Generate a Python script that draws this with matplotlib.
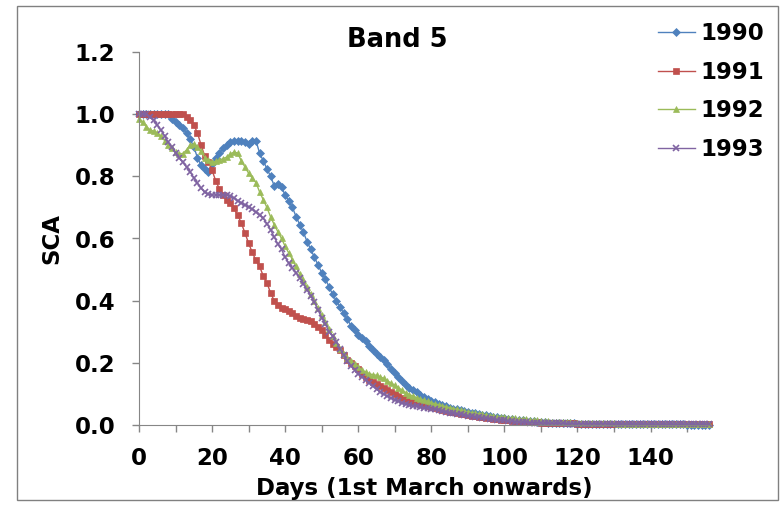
import matplotlib
matplotlib.use('Agg')
import matplotlib.pyplot as plt
from matplotlib.patches import Rectangle

# snow covered area per day, Band 5
sca_1990 = [1.0, 1.0, 1.0, 1.0, 1.0, 1.0, 1.0, 1.0, 1.0, 0.985,
            0.975, 0.965, 0.955, 0.94, 0.92, 0.895, 0.86, 0.835, 0.825, 0.815,
            0.84, 0.86, 0.875, 0.89, 0.90, 0.91, 0.915, 0.915, 0.915, 0.91,
            0.905, 0.915, 0.915, 0.875, 0.85, 0.825, 0.80, 0.77, 0.775,
            0.765, 0.74, 0.72, 0.70, 0.67, 0.645, 0.62, 0.59, 0.565, 0.54,
            0.515, 0.49, 0.47, 0.445, 0.42, 0.40, 0.38, 0.36, 0.34, 0.32,
            0.305, 0.29, 0.28, 0.27, 0.255, 0.24, 0.23, 0.22, 0.21, 0.195,
            0.18, 0.168, 0.155, 0.142, 0.13, 0.12, 0.112, 0.105, 0.097,
            0.09, 0.085, 0.078, 0.073, 0.068, 0.064, 0.06, 0.056, 0.053, 0.05,
            0.047, 0.044, 0.041, 0.039, 0.037, 0.035, 0.033, 0.031, 0.029, 0.027,
            0.025, 0.023, 0.021, 0.02, 0.018, 0.017, 0.016, 0.015, 0.014, 0.013,
            0.012, 0.011, 0.01, 0.009, 0.008, 0.007, 0.007, 0.006, 0.006,
            0.005, 0.005, 0.005, 0.004, 0.004, 0.004, 0.004, 0.003, 0.003, 0.003,
            0.003, 0.003, 0.003, 0.002, 0.002, 0.002, 0.002, 0.002, 0.002, 0.002,
            0.002, 0.002, 0.002, 0.002, 0.002, 0.002, 0.002, 0.002, 0.002, 0.002,
            0.002, 0.002, 0.002, 0.001, 0.001, 0.001, 0.001, 0.001, 0.001, 0.001]

sca_1991 = [1.0, 1.0, 1.0, 1.0, 1.0, 1.0, 1.0, 1.0, 1.0, 1.0,
            1.0, 1.0, 1.0, 0.99, 0.98, 0.965, 0.94, 0.9, 0.865, 0.845,
            0.82, 0.785, 0.76, 0.74, 0.725, 0.713, 0.697, 0.675, 0.65, 0.617,
            0.585, 0.555, 0.53, 0.51, 0.48, 0.458, 0.425, 0.4, 0.385,
            0.375, 0.372, 0.367, 0.36, 0.35, 0.345, 0.34, 0.338, 0.335, 0.325,
            0.315, 0.305, 0.29, 0.275, 0.26, 0.25, 0.24, 0.225, 0.21, 0.2,
            0.19, 0.18, 0.165, 0.155, 0.145, 0.138, 0.132, 0.125, 0.12, 0.113,
            0.107, 0.1, 0.094, 0.088, 0.083, 0.078, 0.074, 0.07, 0.066,
            0.063, 0.06, 0.057, 0.054, 0.051, 0.048, 0.046, 0.043, 0.041, 0.039,
            0.036, 0.034, 0.032, 0.03, 0.028, 0.026, 0.025, 0.023, 0.022, 0.02,
            0.019, 0.017, 0.016, 0.015, 0.014, 0.013, 0.012, 0.011, 0.01, 0.01,
            0.009, 0.009, 0.008, 0.007, 0.007, 0.006, 0.006, 0.006, 0.005,
            0.005, 0.005, 0.005, 0.004, 0.004, 0.004, 0.004, 0.004, 0.003, 0.003,
            0.003, 0.003, 0.003, 0.003, 0.003, 0.003, 0.003, 0.003, 0.003, 0.003,
            0.003, 0.003, 0.003, 0.003, 0.002, 0.002, 0.002, 0.002, 0.002, 0.002,
            0.002, 0.002, 0.002, 0.002, 0.002, 0.002, 0.002, 0.002, 0.002, 0.002]

sca_1992 = [0.985, 0.975, 0.96, 0.95, 0.945, 0.94, 0.93, 0.915, 0.9, 0.89,
            0.878, 0.873, 0.873, 0.885, 0.9, 0.905, 0.895, 0.88, 0.86, 0.852,
            0.846, 0.848, 0.852, 0.857, 0.862, 0.872, 0.878, 0.875, 0.85, 0.83,
            0.81, 0.795, 0.78, 0.75, 0.725, 0.7, 0.67, 0.645, 0.622,
            0.6, 0.575, 0.553, 0.532, 0.51, 0.485, 0.465, 0.445, 0.42, 0.4,
            0.375, 0.355, 0.332, 0.31, 0.285, 0.265, 0.245, 0.23, 0.215, 0.205,
            0.195, 0.185, 0.178, 0.17, 0.165, 0.162, 0.16, 0.155, 0.15, 0.142,
            0.135, 0.128, 0.12, 0.112, 0.104, 0.098, 0.093, 0.088, 0.084,
            0.08, 0.076, 0.072, 0.068, 0.065, 0.062, 0.059, 0.056, 0.053, 0.05,
            0.047, 0.045, 0.042, 0.04, 0.038, 0.036, 0.034, 0.032, 0.03, 0.029,
            0.027, 0.026, 0.025, 0.024, 0.022, 0.021, 0.02, 0.019, 0.018, 0.017,
            0.016, 0.015, 0.014, 0.013, 0.012, 0.011, 0.011, 0.01, 0.01,
            0.009, 0.009, 0.008, 0.008, 0.007, 0.007, 0.007, 0.006, 0.006, 0.006,
            0.005, 0.005, 0.005, 0.005, 0.004, 0.004, 0.004, 0.004, 0.004, 0.004,
            0.003, 0.003, 0.003, 0.003, 0.003, 0.003, 0.003, 0.003, 0.003, 0.003,
            0.003, 0.003, 0.003, 0.003, 0.002, 0.002, 0.002, 0.002, 0.002, 0.002]

sca_1993 = [1.0, 1.0, 1.0, 0.99, 0.98, 0.965, 0.948, 0.93, 0.91, 0.895,
            0.875, 0.86, 0.845, 0.83, 0.814, 0.796, 0.778, 0.762, 0.748, 0.742,
            0.74, 0.74, 0.74, 0.74, 0.74, 0.737, 0.73, 0.722, 0.715, 0.708,
            0.7, 0.694, 0.685, 0.675, 0.665, 0.648, 0.628, 0.605, 0.582,
            0.565, 0.54, 0.52, 0.505, 0.49, 0.473, 0.455, 0.435, 0.415, 0.395,
            0.37, 0.345, 0.325, 0.3, 0.285, 0.268, 0.245, 0.225, 0.205, 0.19,
            0.177, 0.165, 0.155, 0.145, 0.135, 0.125, 0.115, 0.107, 0.099, 0.093,
            0.087, 0.082, 0.076, 0.071, 0.067, 0.064, 0.062, 0.06, 0.058,
            0.056, 0.054, 0.052, 0.05, 0.047, 0.045, 0.042, 0.04, 0.038, 0.036,
            0.034, 0.032, 0.03, 0.028, 0.026, 0.025, 0.023, 0.022, 0.02, 0.019,
            0.017, 0.016, 0.015, 0.013, 0.012, 0.011, 0.01, 0.009, 0.009, 0.008,
            0.008, 0.007, 0.007, 0.006, 0.006, 0.005, 0.005, 0.005, 0.005,
            0.004, 0.004, 0.004, 0.004, 0.004, 0.004, 0.004, 0.004, 0.004, 0.004,
            0.004, 0.004, 0.003, 0.003, 0.003, 0.003, 0.003, 0.003, 0.003, 0.003,
            0.003, 0.003, 0.003, 0.002, 0.002, 0.002, 0.002, 0.002, 0.002, 0.002,
            0.002, 0.002, 0.002, 0.002, 0.002, 0.002, 0.002, 0.002, 0.002, 0.002]

days = list(range(len(sca_1990)))
years = ['1990', '1991', '1992', '1993']
series = [sca_1990, sca_1991, sca_1992, sca_1993]
colors = ['#4F81BD', '#C0504D', '#9BBB59', '#8064A2']
markers = ['D', 's', '^', 'x']
msizes = [3.8, 5, 5, 4.5]

plt.rcParams['font.family'] = 'DejaVu Sans'
plt.rcParams['font.weight'] = 'bold'

fig = plt.figure(figsize=(7.82, 5.05), dpi=100)
ax = fig.add_axes([139/782, 80/505, 570/782, 373/505])

for vals, lab, c, m, s in zip(series, years, colors, markers, msizes):
    ax.plot(days[:len(vals)], vals, color=c, marker=m, markersize=s, lw=1,
            mew=1.2 if m == 'x' else 0.5, label=lab, clip_on=False)

grey = '#868686'
ax.set_xlim(0, len(days) - 1)
ax.set_ylim(0, 1.2)
ax.set_yticks([0, 0.2, 0.4, 0.6, 0.8, 1.0, 1.2])
ax.set_yticklabels(['%.1f' % v for v in [0, 0.2, 0.4, 0.6, 0.8, 1.0, 1.2]])
ax.set_xticks(range(0, 151, 20))
ax.set_xticks(range(10, 151, 20), minor=True)
ax.tick_params(axis='both', which='both', direction='out', length=5,
               width=1, color=grey, labelsize=16.5)
ax.tick_params(axis='y', pad=12)
ax.tick_params(axis='x', pad=11)
for sp in ['top', 'right']:
    ax.spines[sp].set_visible(False)
for sp in ['left', 'bottom']:
    ax.spines[sp].set_color(grey)

fig.text(424/782, 1 - 488/505, 'Days (1st March onwards)', ha='center',
         va='center', fontsize=16.5, fontweight='bold')
fig.text(52/782, 1 - 239/505, 'SCA', ha='center', va='center', rotation=90,
         fontsize=16.5, fontweight='bold')
fig.text(397/782, 1 - 40/505, 'Band 5', ha='center', va='center',
         fontsize=18.5, fontweight='bold')

fig.legend(loc='upper left', bbox_to_anchor=(658/782, 1 - 22/505),
           frameon=False, fontsize=16.5, handlelength=1.6, handletextpad=0.25,
           labelspacing=0.68, borderaxespad=0, borderpad=0)

fig.add_artist(Rectangle((17/782, 5/505), 761/782, 494/505,
                         transform=fig.transFigure, fill=False,
                         edgecolor='#808080', lw=1))

fig.savefig('out.png', dpi=100)
